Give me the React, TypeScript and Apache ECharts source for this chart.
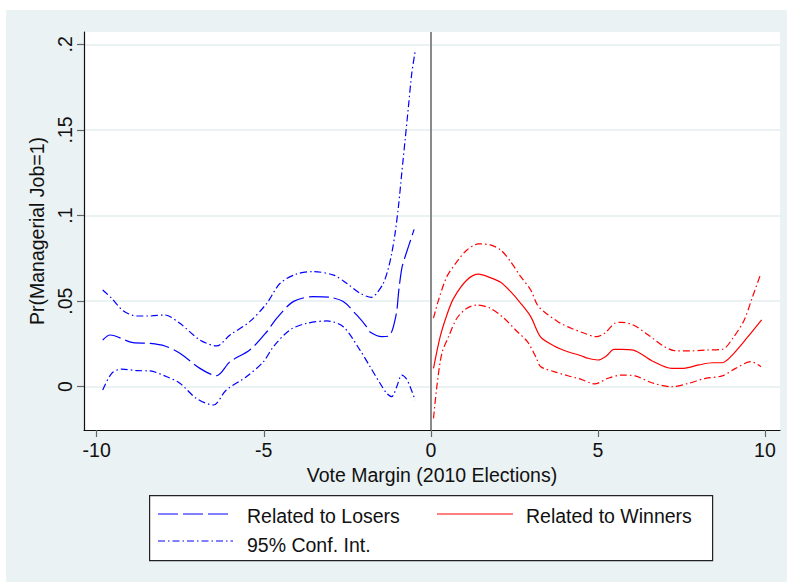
import React, { useEffect, useRef } from "react";
import * as echarts from "echarts";

// Local polynomial fits of Pr(Managerial Job=1) against the vote margin,
// with 95% confidence bands, on each side of the cutoff.
const losersFit: [number, number][] = [
  [-9.82, 0.0273], [-9.6, 0.0302], [-8.91, 0.0257], [-8.4, 0.0253], [-7.96, 0.0238],
  [-7.51, 0.0195], [-6.91, 0.0107], [-6.41, 0.0064], [-6.01, 0.0146], [-5.42, 0.0214],
  [-4.91, 0.0321], [-4.61, 0.04], [-4.12, 0.0497], [-3.52, 0.0526], [-3.02, 0.0522],
  [-2.62, 0.0497], [-2.22, 0.0419], [-1.92, 0.035], [-1.83, 0.0321], [-1.47, 0.0292],
  [-1.24, 0.0298], [-1.04, 0.0419], [-0.96, 0.056], [-0.87, 0.069], [-0.77, 0.0759],
  [-0.67, 0.0818], [-0.5, 0.0919],
];
const losersUpper: [number, number][] = [
  [-9.82, 0.0565], [-9.55, 0.0516], [-9.21, 0.0444], [-8.8, 0.0413], [-8.4, 0.0413],
  [-7.96, 0.0419], [-7.51, 0.037], [-6.91, 0.0273], [-6.41, 0.0238], [-6.01, 0.0302],
  [-5.42, 0.038], [-4.91, 0.0487], [-4.51, 0.0604], [-4.02, 0.0658], [-3.52, 0.0672],
  [-2.91, 0.0652], [-2.52, 0.0604], [-2.12, 0.0546], [-1.77, 0.0522], [-1.62, 0.0546],
  [-1.42, 0.0604], [-1.27, 0.0692], [-1.17, 0.0779], [-1.07, 0.0896], [-0.97, 0.1051],
  [-0.87, 0.1247], [-0.77, 0.1441], [-0.67, 0.1636], [-0.57, 0.1831], [-0.47, 0.1957],
];
const losersLower: [number, number][] = [
  [-9.82, -0.0019], [-9.55, 0.0078], [-9.26, 0.0103], [-8.8, 0.0094], [-8.4, 0.0092],
  [-7.96, 0.0063], [-7.51, 0.002], [-7.02, -0.0068], [-6.51, -0.0107], [-6.12, -0.0019],
  [-5.52, 0.0058], [-5.01, 0.0146], [-4.71, 0.0234], [-4.22, 0.0331], [-3.72, 0.037],
  [-3.11, 0.0384], [-2.62, 0.035], [-2.12, 0.0214], [-1.82, 0.0117], [-1.52, 0.002],
  [-1.32, -0.0039], [-1.17, -0.0058], [-1.02, 0.0], [-0.87, 0.0068], [-0.74, 0.0049],
  [-0.62, 0.0], [-0.47, -0.0078],
];
const winnersFit: [number, number][] = [
  [0.08, 0.0107], [0.28, 0.0292], [0.48, 0.0419], [0.68, 0.0516], [1.08, 0.0623],
  [1.43, 0.0657], [1.78, 0.0637], [2.09, 0.061], [2.39, 0.0555], [2.69, 0.0487],
  [2.99, 0.0409], [3.29, 0.0289], [3.69, 0.0238], [4.1, 0.0204], [4.5, 0.0181],
  [4.7, 0.0166], [5.0, 0.0156], [5.25, 0.0179], [5.48, 0.0218], [5.71, 0.0218],
  [6.06, 0.0214], [6.61, 0.0152], [7.21, 0.0107], [7.52, 0.0107], [8.02, 0.0127],
  [8.42, 0.014], [8.72, 0.014], [9.07, 0.0195], [9.48, 0.0289], [9.9, 0.039],
];
const winnersUpper: [number, number][] = [
  [0.08, 0.04], [0.23, 0.0506], [0.48, 0.0643], [0.78, 0.073], [1.08, 0.0799],
  [1.43, 0.0834], [1.78, 0.0828], [2.09, 0.0799], [2.39, 0.073], [2.69, 0.0643],
  [2.99, 0.0565], [3.19, 0.0477], [3.39, 0.0438], [3.8, 0.038], [4.2, 0.0341],
  [4.6, 0.0312], [4.95, 0.0292], [5.2, 0.0312], [5.5, 0.037], [5.71, 0.0376],
  [6.06, 0.036], [6.51, 0.0302], [6.91, 0.0244], [7.31, 0.021], [7.72, 0.0209],
  [8.22, 0.0214], [8.72, 0.0218], [9.07, 0.0292], [9.38, 0.039], [9.63, 0.0526],
  [9.86, 0.0652],
];
const winnersLower: [number, number][] = [
  [0.08, -0.0185], [0.18, 0.0], [0.33, 0.0195], [0.53, 0.0292], [0.78, 0.04],
  [1.08, 0.0458], [1.38, 0.0477], [1.78, 0.0458], [2.19, 0.04], [2.59, 0.0321],
  [2.89, 0.0263], [3.14, 0.0175], [3.29, 0.0117], [3.69, 0.0088], [4.1, 0.0064],
  [4.5, 0.0043], [4.9, 0.0016], [5.3, 0.0049], [5.71, 0.0068], [6.11, 0.0063],
  [6.61, 0.0023], [7.21, 0.0], [7.72, 0.002], [8.22, 0.0049], [8.72, 0.0063],
  [9.12, 0.0107], [9.58, 0.0146], [9.88, 0.0117],
];

const xTickValues = [-10, -5, 0, 5, 10];
const yTickValues = [0, 0.05, 0.1, 0.15, 0.2];
const yTickLabels = ["0", ".05", ".1", ".15", ".2"];
const cutoff = 0;

const xTitle = "Vote Margin (2010 Elections)";
const yTitle = "Pr(Managerial Job=1)";
const losersLabel = "Related to Losers";
const winnersLabel = "Related to Winners";
const ciLabel = "95% Conf. Int.";

const BLUE = "#0000ff";
const RED = "#ff0000";
const BG = "#eaf2f3";
const FONT = "'Liberation Sans', Helvetica, Arial, sans-serif";
const FS = 19.5;
const LONG_DASH = [20, 5];
const DASH_DOT = [7, 3, 1.5, 3];

export default function App() {
  const ref = useRef<HTMLDivElement>(null);

  useEffect(() => {
    if (!ref.current) return;
    const chart = echarts.init(ref.current, undefined, { renderer: "svg" });

    const lineSeries = (
      name: string,
      data: [number, number][],
      color: string,
      type: any,
      extra: any = {}
    ) => ({
      type: "line",
      name,
      data,
      showSymbol: false,
      smooth: 0.3,
      lineStyle: { color, width: 1.2, type },
      itemStyle: { color },
      emphasis: { disabled: true },
      ...extra,
    });

    const legendX = 143;
    const legendY = 485;

    chart.setOption({
      animation: false,
      backgroundColor: BG,
      textStyle: { fontFamily: FONT },
      grid: {
        left: 78,
        top: 22,
        right: 7,
        bottom: 152,
        show: true,
        backgroundColor: "#ffffff",
        borderWidth: 0,
      },
      xAxis: {
        type: "value",
        min: -10.38,
        max: 10.45,
        name: xTitle,
        nameLocation: "middle",
        nameGap: 33,
        nameTextStyle: { color: "#111", fontSize: FS, fontFamily: FONT },
        axisLine: { onZero: false, lineStyle: { color: "#111", width: 1.2 } },
        axisTick: {
          show: true,
          length: 7,
          customValues: xTickValues,
          lineStyle: { color: "#666", width: 1.2 },
        },
        axisLabel: {
          customValues: xTickValues,
          margin: 10,
          color: "#111",
          fontSize: FS,
          fontFamily: FONT,
          formatter: (v: number) => String(v),
        },
        splitLine: { show: false },
      },
      yAxis: {
        type: "value",
        min: -0.0253,
        max: 0.2072,
        name: yTitle,
        nameLocation: "middle",
        nameRotate: 90,
        nameGap: 30,
        nameTextStyle: { color: "#111", fontSize: FS, fontFamily: FONT },
        axisLine: { show: true, onZero: false, lineStyle: { color: "#111", width: 1.2 } },
        axisTick: {
          show: true,
          length: 7,
          customValues: yTickValues,
          lineStyle: { color: "#666", width: 1.2 },
        },
        axisLabel: {
          customValues: yTickValues,
          rotate: 90,
          margin: 9,
          color: "#111",
          fontSize: FS,
          fontFamily: FONT,
          formatter: (v: number) => {
            const i = yTickValues.findIndex((t) => Math.abs(t - v) < 1e-9);
            return i >= 0 ? yTickLabels[i] : "";
          },
        },
        splitLine: { show: true, lineStyle: { color: BG, width: 2 } },
      },
      series: [
        lineSeries(losersLabel, losersFit, BLUE, LONG_DASH, {
          markLine: {
            silent: true,
            symbol: "none",
            label: { show: false },
            lineStyle: { color: "#8a8a8a", width: 2, type: "solid" },
            data: [{ xAxis: cutoff }],
          },
        }),
        lineSeries(ciLabel, losersUpper, BLUE, DASH_DOT),
        lineSeries(ciLabel, losersLower, BLUE, DASH_DOT),
        lineSeries(winnersLabel, winnersFit, RED, "solid"),
        lineSeries(ciLabel, winnersUpper, RED, DASH_DOT),
        lineSeries(ciLabel, winnersLower, RED, DASH_DOT),
      ],
      graphic: {
        elements: [
          {
            type: "rect",
            left: legendX,
            top: legendY,
            shape: { width: 563, height: 65 },
            style: { fill: "#ffffff", stroke: "#222", lineWidth: 1.2 },
          },
          {
            type: "line",
            shape: { x1: legendX + 9, y1: legendY + 19, x2: legendX + 84, y2: legendY + 19 },
            style: { stroke: BLUE, lineWidth: 1.2, lineDash: LONG_DASH },
          },
          {
            type: "text",
            x: legendX + 98,
            y: legendY + 20.5,
            style: {
              text: losersLabel,
              fill: "#111",
              font: `${FS}px ${FONT}`,
              verticalAlign: "middle",
            },
          },
          {
            type: "line",
            shape: { x1: legendX + 288, y1: legendY + 19, x2: legendX + 364, y2: legendY + 19 },
            style: { stroke: RED, lineWidth: 1.2 },
          },
          {
            type: "text",
            x: legendX + 377,
            y: legendY + 20.5,
            style: {
              text: winnersLabel,
              fill: "#111",
              font: `${FS}px ${FONT}`,
              verticalAlign: "middle",
            },
          },
          {
            type: "line",
            shape: { x1: legendX + 9, y1: legendY + 46, x2: legendX + 84, y2: legendY + 46 },
            style: { stroke: BLUE, lineWidth: 1.2, lineDash: DASH_DOT },
          },
          {
            type: "text",
            x: legendX + 98,
            y: legendY + 49.5,
            style: {
              text: ciLabel,
              fill: "#111",
              font: `${FS}px ${FONT}`,
              verticalAlign: "middle",
            },
          },
        ],
      },
    });

    return () => chart.dispose();
  }, []);

  return (
    <div
      ref={ref}
      style={{ position: "absolute", left: 6, top: 10, width: 781, height: 572 }}
    />
  );
}
